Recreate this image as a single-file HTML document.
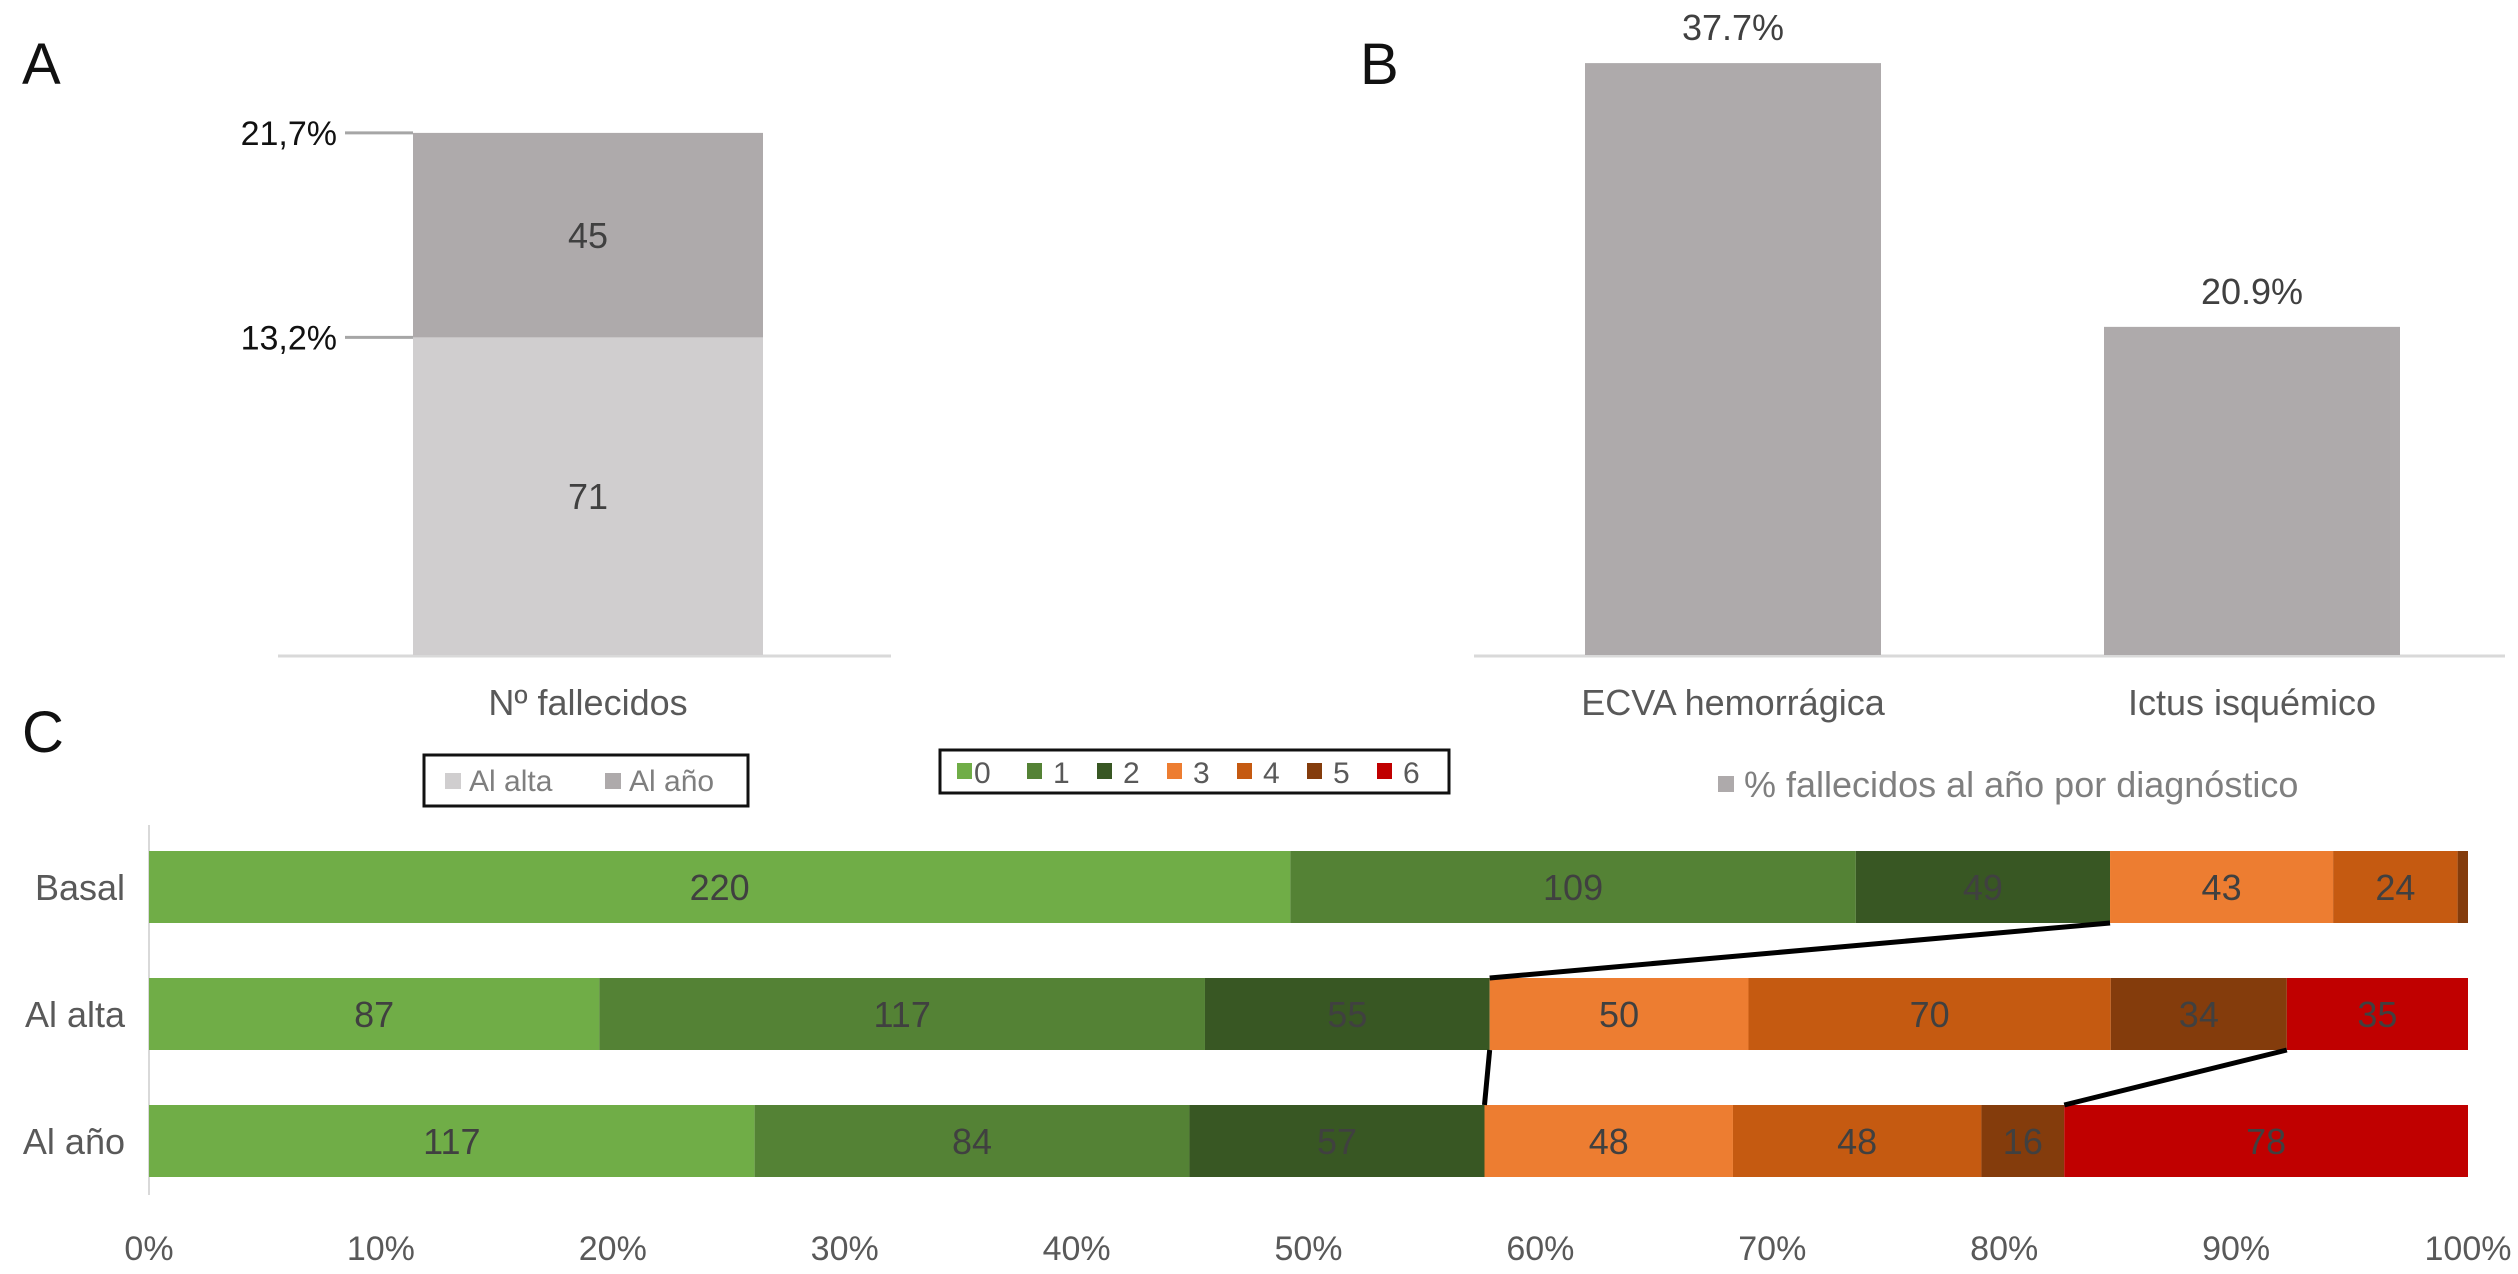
<!DOCTYPE html>
<html><head><meta charset="utf-8"><style>
html,body{margin:0;padding:0;background:#fff;width:2518px;height:1274px;overflow:hidden}
svg{display:block;font-family:"Liberation Sans",sans-serif}
</style></head><body>
<svg id="c" width="2518" height="1274" viewBox="0 0 2518 1274" xmlns="http://www.w3.org/2000/svg">
<text x="22" y="84" font-size="58" fill="#111">A</text>
<text x="1360" y="84" font-size="58" fill="#111">B</text>
<text x="22" y="752" font-size="58" fill="#111">C</text>
</svg>
<script>
const NS='http://www.w3.org/2000/svg';
const svg=document.getElementById('c');
function mk(tag,attrs,txt,parent){const e=document.createElementNS(NS,tag);for(const k in attrs)e.setAttribute(k,attrs[k]);if(txt!==undefined)e.textContent=txt;(parent||svg).appendChild(e);return e;}

// Panel A data
const aSeries=['Al alta','Al año'];
const aCounts=[71,45];
const aCumPct=[13.2,21.7];
const aTickLabels=['13,2%','21,7%'];
const aColors=['#d0cecf','#aeaaab'];
// Panel B data
const bCats=['ECVA hemorrágica','Ictus isquémico'];
const bVals=[37.7,20.9];
// Panel C data
const cCats=['Basal','Al alta','Al año'];
const cLevels=['0','1','2','3','4','5','6'];
const cBasal=[220,109,49,43,24,2,0];
const cAlta=[87,117,55,50,70,34,35];
const cAno=[117,84,57,48,48,16,78];
const cTicks=[0,10,20,30,40,50,60,70,80,90,100];
const cColors=['#70ad47','#548235','#385723','#ed7d31','#c55a11','#843c0c','#c00000'];

// ---- Panel A ----
const aBase=655, aK=24.06;
const aY=p=>aBase-p*aK;
mk('line',{x1:278,x2:891,y1:aBase+1,y2:aBase+1,stroke:'#d9d9d9','stroke-width':3});
let prev=0;
aCumPct.forEach((p,i)=>{
  const r=mk('rect',{x:413,width:350,y:aY(p),height:aY(prev)-aY(p),fill:aColors[i]});
  
  
  const t=mk('text',{x:588,y:(aY(p)+aY(prev))/2+13,'text-anchor':'middle','font-size':36,fill:'#404040'},String(aCounts[i]));
  
  
  mk('line',{x1:345,x2:413,y1:aY(p),y2:aY(p),stroke:'#a6a6a6','stroke-width':3});
  const tl=mk('text',{x:337,y:aY(p)+12,'text-anchor':'end','font-size':34,fill:'#111'},aTickLabels[i]);
  
  
  prev=p;
});
const ax=mk('text',{x:588,y:715,'text-anchor':'middle','font-size':36,fill:'#595959'},'Nº fallecidos');


const lgA=mk('g',{});


mk('rect',{x:424,y:755,width:324,height:51,fill:'#fff',stroke:'#111','stroke-width':3},undefined,lgA);
aSeries.forEach((s,i)=>{
  const x=i?605:445;
  mk('rect',{x:x,y:773,width:16,height:16,fill:aColors[i]},undefined,lgA);
  mk('text',{x:x+24,y:791,'font-size':30,fill:'#7f7f7f'},s,lgA);
});

// ---- Panel B ----
const bBase=655, bK=15.7;
const bY=v=>bBase-v*bK;
mk('line',{x1:1474,x2:2505,y1:bBase+1,y2:bBase+1,stroke:'#d9d9d9','stroke-width':3});
const bX=[1585,2104];
bVals.forEach((v,i)=>{
  const r=mk('rect',{x:bX[i],width:296,y:bY(v),height:bY(0)-bY(v),fill:'#aeaaab'});
  
  
  const t=mk('text',{x:bX[i]+148,y:bY(v)-23,'text-anchor':'middle','font-size':36,fill:'#404040'},v.toFixed(1)+'%');
  
  
  const c=mk('text',{x:bX[i]+148,y:715,'text-anchor':'middle','font-size':36,fill:'#595959'},bCats[i]);
  
  
});
const lgB=mk('g',{});


mk('rect',{x:1718,y:776,width:16,height:16,fill:'#aeaaab'},undefined,lgB);
mk('text',{x:1744,y:797,'font-size':36,fill:'#7f7f7f'},'% fallecidos al año por diagnóstico',lgB);

// ---- Panel C ----
const x0=149,x1=2468;
const cx=p=>x0+(x1-x0)*p/100;
const rowsY=[851,978,1105], bh=72;
mk('line',{x1:x0,x2:x0,y1:825,y2:1195,stroke:'#d9d9d9','stroke-width':2});
const rows=[cBasal,cAlta,cAno];
const cum=[];
rows.forEach((vals,r)=>{
  const tot=vals.reduce((a,b)=>a+b,0);
  let acc=0;const cc=[];
  vals.forEach((v,i)=>{
    const p0=acc/tot*100;acc+=v;const p1=acc/tot*100;cc.push(p1);
    if(v<=0)return;
    const rc=mk('rect',{x:cx(p0),y:rowsY[r],width:cx(p1)-cx(p0),height:bh,fill:cColors[i]});
    
    
    if(cx(p1)-cx(p0)>40){
      const t=mk('text',{x:(cx(p0)+cx(p1))/2,y:rowsY[r]+bh/2+13,'text-anchor':'middle','font-size':36,fill:'#404040'},String(v));
      
      
    }
  });
  cum.push(cc);
  const l=mk('text',{x:125,y:rowsY[r]+bh/2+13,'text-anchor':'end','font-size':36,fill:'#595959'},cCats[r]);
  
  
});
// connector lines: end of level 2 and level 5
[[0,2],[1,2],[1,5]].forEach(([r,lv])=>{
  const ln=mk('line',{x1:cx(cum[r][lv]),y1:rowsY[r]+bh,x2:cx(cum[r+1][lv]),y2:rowsY[r+1],stroke:'#000','stroke-width':5});
  
  
});
cTicks.forEach(t=>{
  const e=mk('text',{x:cx(t),y:1260,'text-anchor':'middle','font-size':34,fill:'#595959'},t+'%');
  
  
});
const lgC=mk('g',{});


mk('rect',{x:940,y:750,width:509,height:43,fill:'#fff',stroke:'#111','stroke-width':3},undefined,lgC);
cLevels.forEach((s,i)=>{
  const x=957+i*70;
  mk('rect',{x:x,y:763,width:15,height:16,fill:cColors[i]},undefined,lgC);
  mk('text',{x:x+(i?26:17),y:783,'font-size':30,fill:'#595959'},s,lgC);
});
</script>
</body></html>
